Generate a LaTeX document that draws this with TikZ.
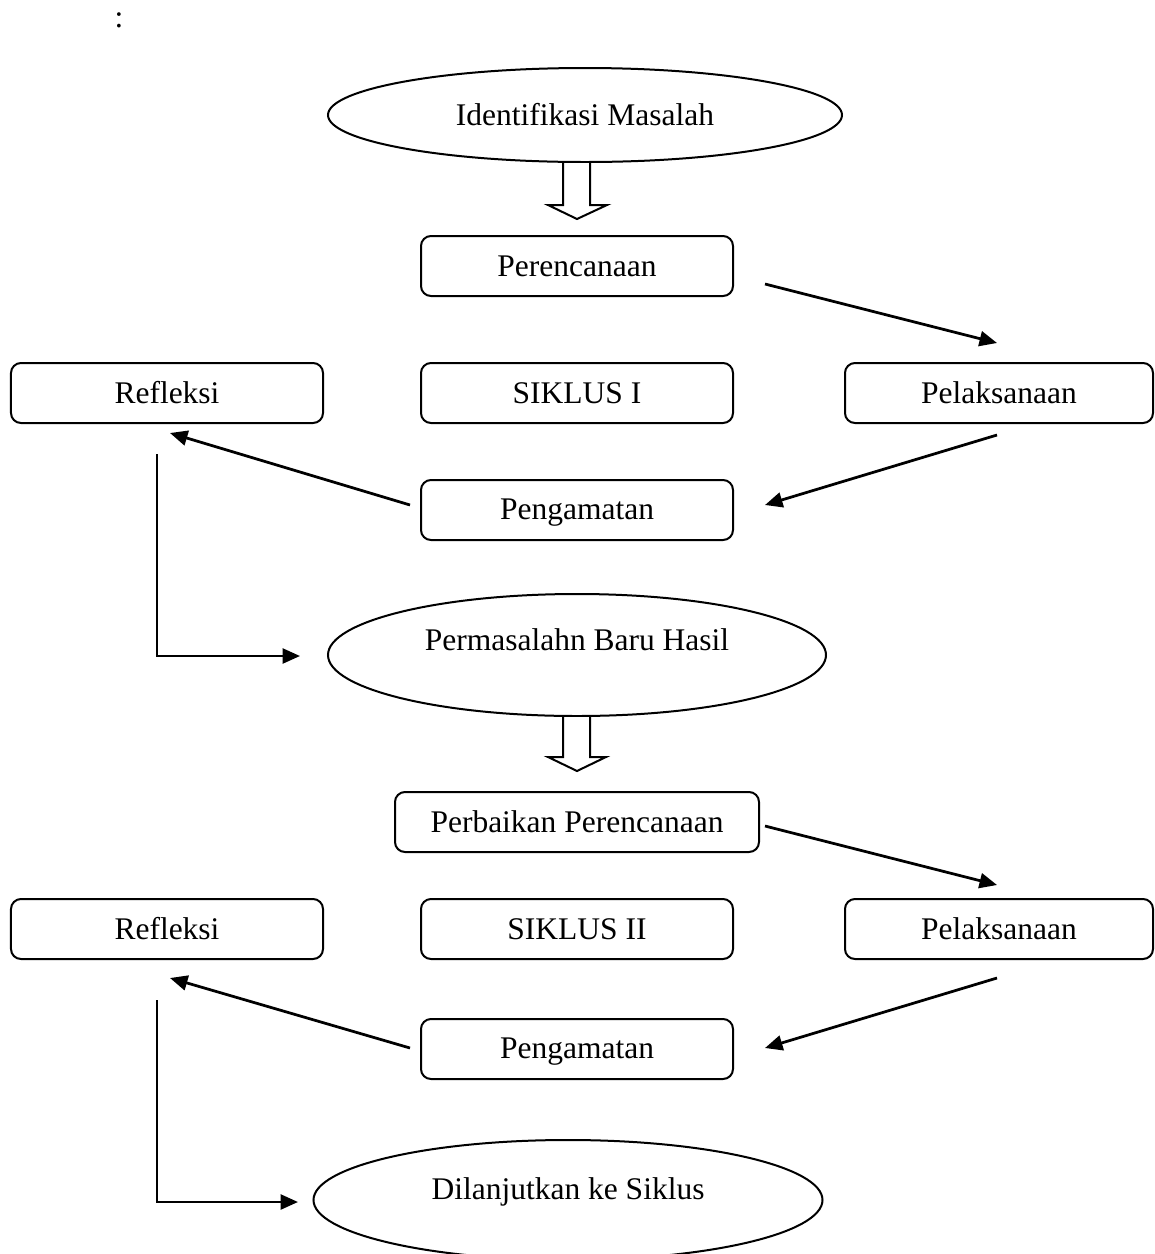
\documentclass[tikz,border=0pt]{standalone}
\usepackage{fontspec}
\setmainfont{Liberation Serif}
\usetikzlibrary{shapes.geometric,arrows.meta}

\tikzset{
  every node/.style={font=\fontsize{12.6}{15}\selectfont},
  box/.style={draw,rounded corners=4pt,line width=0.8pt,minimum width=124.8pt,minimum height=24pt,inner sep=0pt},
  oval/.style={draw,ellipse,line width=0.8pt,inner sep=0pt},
  conn/.style={line width=1.1pt,-{Triangle[length=7pt,width=6pt]}},
  hollow/.style={draw,line width=0.8pt,fill=white,line join=miter},
}

\begin{document}
\begin{tikzpicture}[x=0.4pt,y=0.4pt,yscale=-1,xscale=1]
\useasboundingbox (0,0) rectangle (1154,1254);

% Text Node
\node (colon) at (119,20) {:};

%Shape: Ellipse
\node[oval,minimum width=205.6pt,minimum height=37.6pt] (ident) at (585,115) {Identifikasi Masalah};
%Shape: Hollow arrow
\draw[hollow] (563,163) -- (563,205) -- (548,205) -- (577,219) -- (607,205) -- (590,205) -- (590,163) ;

%Shape: Rectangles, cycle I
\node[box] (renc1) at (577,266) {Perencanaan};
\node[box] (refl1) at (167,393) {Refleksi};
\node[box] (sik1) at (577,393) {SIKLUS I};
\node[box,minimum width=123.2pt] (laks1) at (999,393) {Pelaksanaan};
\node[box,text depth=1pt] (amat1) at (577,510) {Pengamatan};

%Straight Lines, cycle I
\coordinate (renc1out) at (765,284);
\coordinate (laks1in) at (997,343);
\coordinate (laks1out) at (997,435);
\coordinate (amat1in) at (765,505);
\coordinate (amat1out) at (410,505);
\coordinate (refl1in) at (170,433);
\coordinate (refl1out) at (157,454);
\coordinate (masbaruin) at (300,656);
\draw[conn] (renc1out) -- (laks1in) ;
\draw[conn] (laks1out) -- (amat1in) ;
\draw[conn] (amat1out) -- (refl1in) ;
\draw[conn] (refl1out) |- (masbaruin) ;

%Shape: Ellipse
\node[oval,minimum width=199.2pt,minimum height=48.8pt,text depth=12pt] (masbaru) at (577,655) {Permasalahn Baru Hasil};
%Shape: Hollow arrow
\draw[hollow] (563,717) -- (563,757) -- (548,757) -- (577,771) -- (606,757) -- (590,757) -- (590,717) ;

%Shape: Rectangles, cycle II
\node[box,minimum width=145.6pt] (renc2) at (577,822) {Perbaikan Perencanaan};
\node[box] (refl2) at (167,929) {Refleksi};
\node[box] (sik2) at (577,929) {SIKLUS II};
\node[box,minimum width=123.2pt] (laks2) at (999,929) {Pelaksanaan};
\node[box,text depth=1pt] (amat2) at (577,1049) {Pengamatan};

%Straight Lines, cycle II
\coordinate (renc2out) at (765,826);
\coordinate (laks2in) at (997,885);
\coordinate (laks2out) at (997,978);
\coordinate (amat2in) at (765,1048);
\coordinate (amat2out) at (410,1048);
\coordinate (refl2in) at (170,978);
\coordinate (refl2out) at (157,1000);
\coordinate (lanjutin) at (298,1202);
\draw[conn] (renc2out) -- (laks2in) ;
\draw[conn] (laks2out) -- (amat2in) ;
\draw[conn] (amat2out) -- (refl2in) ;
\draw[conn] (refl2out) |- (lanjutin) ;

%Shape: Ellipse
\node[oval,minimum width=203.6pt,minimum height=48pt,text depth=9pt] (lanjut) at (568,1200) {Dilanjutkan ke Siklus};
\end{tikzpicture}
\end{document}
